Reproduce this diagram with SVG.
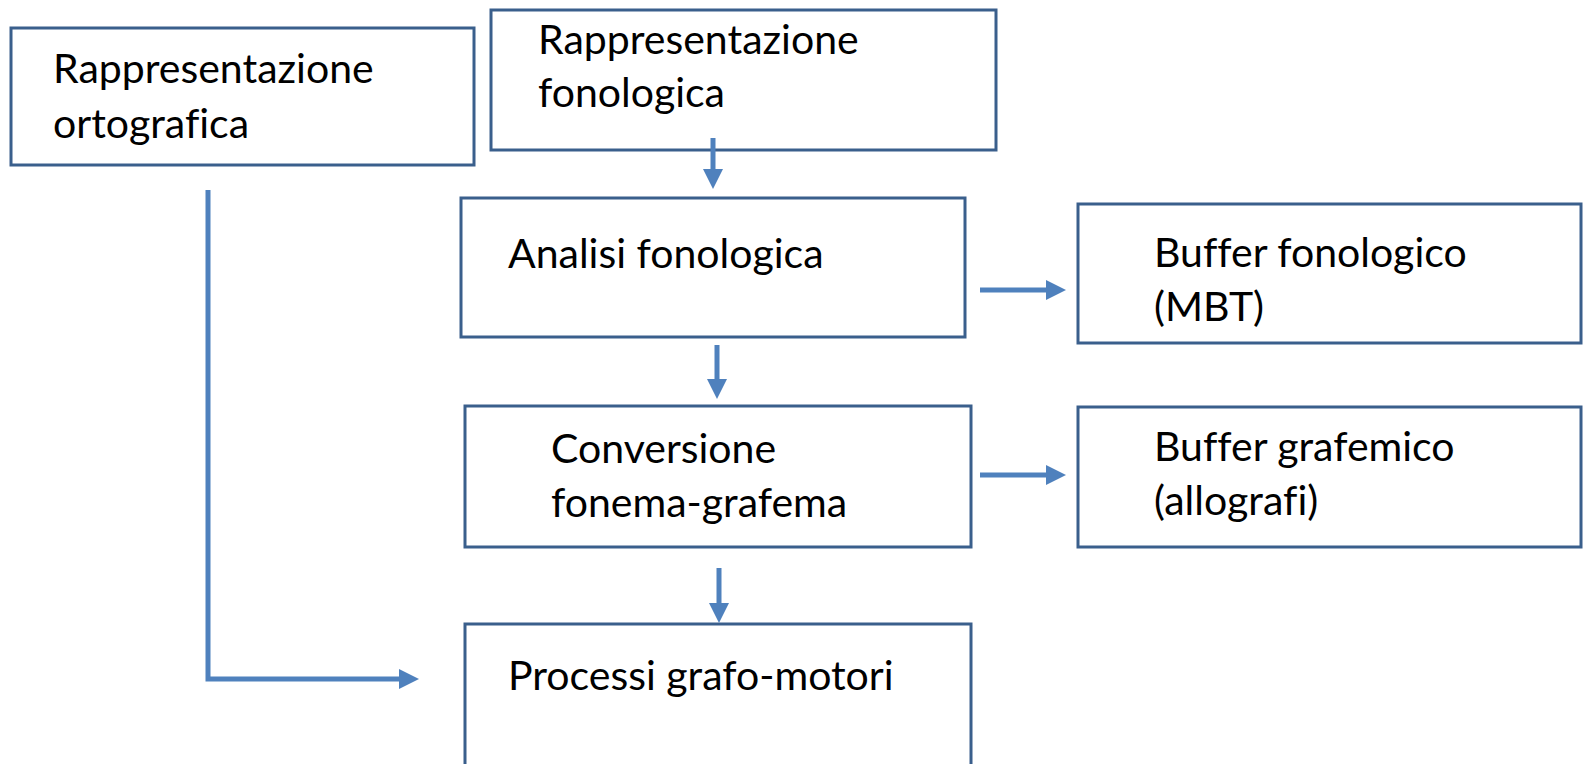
<svg xmlns="http://www.w3.org/2000/svg" width="1584" height="764" viewBox="0 0 1584 764">
<style>
.box{fill:#fff;stroke:#3A5F8C;stroke-width:3}
.t{font-family:Lato,"Open Sans","Liberation Sans",sans-serif;font-size:41px;fill:#000;font-variant-ligatures:none}
.c{fill:none;stroke:#4F81BD;stroke-width:5}
</style>
<defs>
<marker id="ah" markerWidth="4" markerHeight="4" refX="0.2" refY="2" orient="auto" markerUnits="strokeWidth">
<path d="M0,0 L4,2 L0,4 Z" fill="#4F81BD"/>
</marker>
</defs>
<rect width="1584" height="764" fill="#fff"/>
<g id="n-ortografica">
<rect class="box" x="11" y="28" width="463" height="137"/>
<text class="t" x="53" y="83">Rappresentazione</text>
<text class="t" x="53" y="138">ortografica</text>
</g>
<g id="n-fonologica">
<rect class="box" x="491" y="10" width="505" height="140"/>
<text class="t" x="538" y="54">Rappresentazione</text>
<text class="t" x="538" y="107">fonologica</text>
</g>
<g id="n-analisi">
<rect class="box" x="461" y="198" width="504" height="139"/>
<text class="t" x="508" y="268">Analisi fonologica</text>
</g>
<g id="n-bufferfon">
<rect class="box" x="1078" y="204" width="503" height="139"/>
<text class="t" x="1154" y="267">Buffer fonologico</text>
<text class="t" x="1154" y="321">(MBT)</text>
</g>
<g id="n-conversione">
<rect class="box" x="465" y="406" width="506" height="141"/>
<text class="t" x="551" y="463">Conversione</text>
<text class="t" x="551" y="517">fonema-grafema</text>
</g>
<g id="n-buffergraf">
<rect class="box" x="1078" y="407" width="503" height="140"/>
<text class="t" x="1154" y="461">Buffer grafemico</text>
<text class="t" x="1154" y="515">(allografi)</text>
</g>
<g id="n-processi">
<rect class="box" x="465" y="624" width="506" height="142"/>
<text class="t" x="508" y="690">Processi grafo-motori</text>
</g>
<g id="connectors">
<path class="c" d="M713,138 V170" marker-end="url(#ah)"/>
<path class="c" d="M980,290 H1047" marker-end="url(#ah)"/>
<path class="c" d="M717,345 V380" marker-end="url(#ah)"/>
<path class="c" d="M980,475 H1047" marker-end="url(#ah)"/>
<path class="c" d="M719,568 V604" marker-end="url(#ah)"/>
<path class="c" d="M208,190 V679 H400" marker-end="url(#ah)"/>
</g>
</svg>
